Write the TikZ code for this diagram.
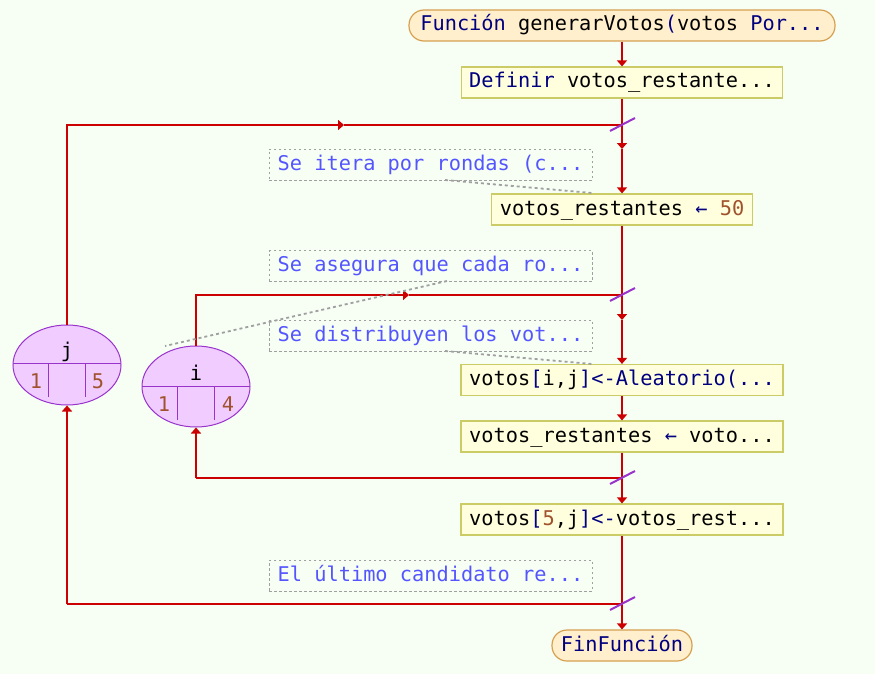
\documentclass[tikz,border=0pt]{standalone}
\usepackage{fontspec}
\setmonofont{DejaVu Sans Mono}
\usetikzlibrary{shapes.geometric,arrows.meta}
\definecolor{bg}{RGB}{247,255,245}
\definecolor{flow}{RGB}{204,0,0}
\definecolor{kw}{RGB}{0,0,128}
\definecolor{num}{RGB}{160,82,45}
\definecolor{cmt}{RGB}{85,85,255}
\definecolor{boxfill}{RGB}{255,255,221}
\definecolor{boxdraw}{RGB}{204,204,102}
\definecolor{termfill}{RGB}{255,239,204}
\definecolor{termdraw}{RGB}{214,160,80}
\definecolor{loopfill}{RGB}{240,204,255}
\definecolor{loopdraw}{RGB}{153,51,204}
\definecolor{notedraw}{RGB}{160,160,160}
\begin{document}
\begin{tikzpicture}[x=1pt,y=-1pt,
  font=\ttfamily\fontsize{20.3}{24}\selectfont,
  every node/.style={inner sep=0pt, text height=15pt, text depth=4pt},
  proc/.style={draw=boxdraw, fill=boxfill, line width=1.2pt, minimum height=31pt},
  term/.style={draw=termdraw, fill=termfill, rounded corners=15pt, line width=1.2pt, minimum height=31pt},
  note/.style={draw=notedraw, dash pattern=on 2.5pt off 2.5pt, line width=1pt, text=cmt, minimum width=323pt, minimum height=31pt},
  loopnode/.style={ellipse, draw=loopdraw, fill=loopfill, line width=1pt, minimum width=108pt, minimum height=80pt},
  loopline/.style={draw=loopdraw, line width=1pt},
  flowline/.style={draw=flow, line width=2pt},
  tip/.style={flowline, -{Triangle[length=6pt,width=10pt]}},
  slashmark/.style={draw=loopdraw, line width=2pt},
  notelink/.style={draw=notedraw, line width=1.8pt, dash pattern=on 3pt off 3pt},
  lbl/.style={anchor=base, text height=, text depth=}
]
\useasboundingbox[fill=bg] (0,0) rectangle (875,674);

% main flow nodes
\node[term, minimum width=426pt] (start) at (622,25.5) {\textcolor{kw}{Función} generarVotos\textcolor{kw}{(}votos \textcolor{kw}{Por...}};
\node[proc, minimum width=321pt] (b1) at (622,82.5) {\textcolor{kw}{Definir} votos\_restante...};
\node[proc, minimum width=261pt] (b2) at (622,209.5) {votos\_restantes \textcolor{kw}{←} \textcolor{num}{50}};
\node[proc, minimum width=322pt] (b3) at (622,380) {votos\textcolor{kw}{[}i,j\textcolor{kw}{]<-Aleatorio(...}};
\node[proc, minimum width=322pt] (b4) at (622,436.5) {votos\_restantes \textcolor{kw}{←} voto...};
\node[proc, minimum width=322pt] (b5) at (622,519.5) {votos\textcolor{kw}{[}\textcolor{num}{5},j\textcolor{kw}{]<-}votos\_rest...};
\node[term, minimum width=140pt] (fin) at (622,645.5) {\textcolor{kw}{FinFunción}};

% comments
\node[note] (n1) at (430.5,164.5) {Se itera por rondas (c...};
\node[note] (n2) at (430.5,266) {Se asegura que cada ro...};
\node[note] (n3) at (430.5,335.5) {Se distribuyen los vot...};
\node[note] (n4) at (430.5,575.5) {El último candidato re...};

% loop nodes
\node[loopnode] (ej) at (67,365) {};
\draw[loopline] (13,363) -- (121,363);
\draw[loopline] (48,363) -- (48,397);
\draw[loopline] (85,363) -- (85,397);
\node[lbl] (ejv) at (67,357) {j};
\node[lbl, text=num] (ej1) at (36,388) {1};
\node[lbl, text=num] (ej2) at (98,388) {5};

\node[loopnode, minimum height=81pt] (ei) at (196,386.5) {};
\draw[loopline] (142,386) -- (250,386);
\draw[loopline] (177,386) -- (177,420);
\draw[loopline] (214,386) -- (214,420);
\node[lbl] (eiv) at (196,380) {i};
\node[lbl, text=num] (ei1) at (164,411) {1};
\node[lbl, text=num] (ei2) at (228,411) {4};

% junctions and helper coordinates
\coordinate (J1) at (622,125);
\coordinate (A1) at (622,149);
\coordinate (J2) at (622,295);
\coordinate (A2) at (622,320);
\coordinate (J3) at (622,478);
\coordinate (J4) at (622,604);
\coordinate (jT) at (67,125);
\coordinate (jM) at (344,125);
\coordinate (iT) at (196,295);
\coordinate (iM) at (409,295);
\coordinate (iB) at (196,478);
\coordinate (jB) at (67,604);

% main flow connectors
\draw[tip] (start) -- (b1);
\draw[flowline] (b1) -- (J1);
\draw[tip] (J1) -- (A1);
\draw[tip] (A1) -- (b2);
\draw[flowline] (b2) -- (J2);
\draw[tip] (J2) -- (A2);
\draw[tip] (A2) -- (b3);
\draw[tip] (b3) -- (b4);
\draw[flowline] (b4) -- (J3);
\draw[tip] (J3) -- (b5);
\draw[flowline] (b5) -- (J4);
\draw[tip] (J4) -- (fin);

% loop j
\draw[tip] (ej.north) -- (jT) -- (jM);
\draw[flowline] (jM) -- (J1);
\draw[flowline] (J4) -- (jB);
\draw[tip] (jB) -- (ej.south);
% loop i
\draw[tip] (ei.north) -- (iT) -- (iM);
\draw[flowline] (iM) -- (J2);
\draw[flowline] (J3) -- (iB);
\draw[tip] (iB) -- (ei.south);

% junction marks
\foreach \J in {J1,J2,J3,J4}{
  \draw[slashmark] ([shift={(-12,6)}]\J) -- ([shift={(13,-7)}]\J);
}

% comment links
\coordinate (c1a) at (445,180);
\coordinate (c1b) at (592,193);
\coordinate (c2a) at (447,281);
\coordinate (c2b) at (165,346);
\coordinate (c3a) at (445,351);
\coordinate (c3b) at (592,364);
\draw[notelink] (c1a) -- (c1b);
\draw[notelink] (c2a) -- (c2b);
\draw[notelink] (c3a) -- (c3b);
\end{tikzpicture}
\end{document}
